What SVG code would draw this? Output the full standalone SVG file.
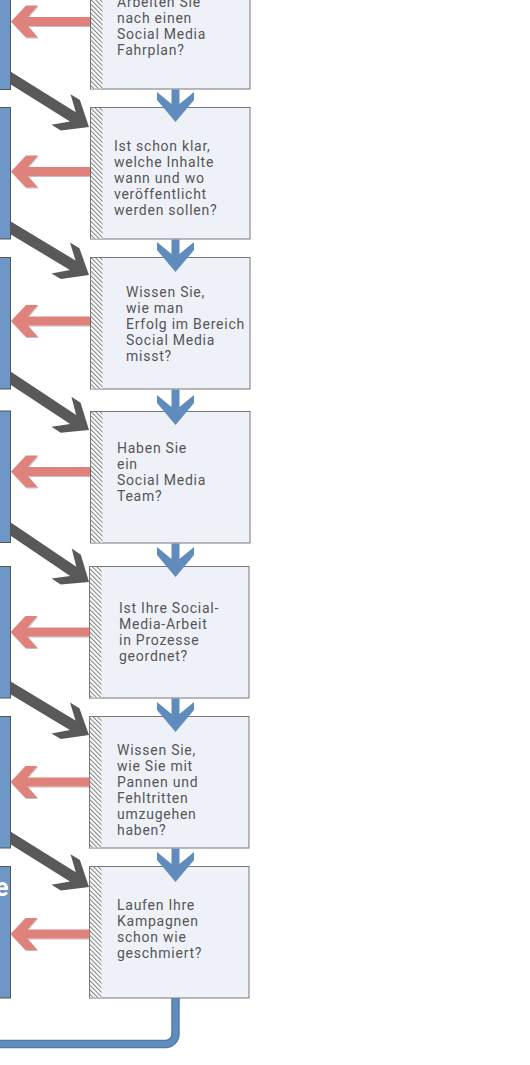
<svg xmlns="http://www.w3.org/2000/svg" width="530" height="1065" viewBox="0 0 530 1065">
<style>
.q{fill:#eef2f8;stroke:#777;stroke-width:1}
.h{fill:url(#hatch);stroke:none}
.lb{fill:#6c97c6;stroke:#555;stroke-width:1}
.t{font-family:Roboto,"Liberation Sans",sans-serif;font-size:14px;letter-spacing:0.75px;fill:#555}
.g{fill:#595959}
.b{fill:#5f8cbc}
.r{fill:#e0827b}
</style>
<defs>
<pattern id="hatch" patternUnits="userSpaceOnUse" width="3.2" height="3.2" patternTransform="rotate(-45)">
<rect width="3.2" height="3.2" fill="#fafbfc"/>
<rect x="0" y="0" width="1" height="3.2" fill="#808080"/>
</pattern>
<polygon id="ga" points="0,0 -22,-18 -33,-18 -19,-5.5 -115,-5.5 -115,5.5 -19,5.5 -33,18 -22,18"/>
<polygon id="ra" points="0,0 15,-16 27,-16 17,-4.5 79,-4.5 79,4.5 17,4.5 27,16 15,16"/>
<filter id="sh" x="-10%" y="-20%" width="120%" height="150%">
<feDropShadow dx="0.5" dy="1" stdDeviation="0.6" flood-color="#000" flood-opacity="0.25"/>
</filter>
</defs>

<g id="connectors-diag">
<use href="#ga" class="g" transform="translate(89,127) rotate(32)"/>
<use href="#ga" class="g" transform="translate(89,275) rotate(31)"/>
<use href="#ga" class="g" transform="translate(89,430) rotate(33.5)"/>
<use href="#ga" class="g" transform="translate(89,582) rotate(34)"/>
<use href="#ga" class="g" transform="translate(89,735) rotate(31)"/>
<use href="#ga" class="g" transform="translate(89,887) rotate(32)"/>
</g>

<g id="left-boxes">
<rect id="lb1" class="lb" x="-100" y="-45" width="110.5" height="134.5"/>
<rect id="lb2" class="lb" x="-100" y="107.5" width="110.5" height="131.5"/>
<rect id="lb3" class="lb" x="-100" y="257.5" width="110.5" height="131.5"/>
<rect id="lb4" class="lb" x="-100" y="411" width="110.5" height="131.5"/>
<rect id="lb5" class="lb" x="-100" y="566.5" width="110.5" height="131.5"/>
<g id="lb6"><rect class="lb" x="-100" y="716.5" width="110.5" height="131.5"/></g>
<g id="lb7"><rect class="lb" x="-100" y="866.5" width="110.5" height="131.5"/>
<text x="8.5" y="896" text-anchor="end" font-family="Roboto,'Liberation Sans',sans-serif" font-weight="bold" font-size="25" fill="#fff">e</text></g>
</g>

<g id="bottom-line">
<path d="M175.5 998 V1034 A10 10 0 0 1 165.5 1044 H-10" fill="none" stroke="#4f7aa8" stroke-width="8.5"/>
<path d="M175.5 998 V1034 A10 10 0 0 1 165.5 1044 H-10" fill="none" stroke="#5f8cbc" stroke-width="6"/>
</g>

<g id="n1">
<rect class="q" x="90.5" y="-45" width="159.5" height="134"/>
<rect class="h" x="91" y="-45" width="11.5" height="133.5"/>
<text class="t"><tspan x="117" y="7">Arbeiten Sie</tspan><tspan x="117" y="23">nach einen</tspan><tspan x="117" y="39">Social Media</tspan><tspan x="117" y="55">Fahrplan?</tspan></text>
</g>
<g id="n2">
<rect class="q" x="90.5" y="107.5" width="159.5" height="131.5"/>
<rect class="h" x="91" y="108" width="11.5" height="130.5"/>
<text class="t"><tspan x="114" y="151">Ist schon klar,</tspan><tspan x="114" y="167">welche Inhalte</tspan><tspan x="114" y="183">wann und wo</tspan><tspan x="114" y="199">veröffentlicht</tspan><tspan x="114" y="215">werden sollen?</tspan></text>
</g>
<g id="n3">
<rect class="q" x="90.5" y="257.5" width="159.5" height="131.5"/>
<rect class="h" x="91" y="258" width="11.5" height="130.5"/>
<text class="t"><tspan x="126" y="297">Wissen Sie,</tspan><tspan x="126" y="313">wie man</tspan><tspan x="126" y="329">Erfolg im Bereich</tspan><tspan x="126" y="345">Social Media</tspan><tspan x="126" y="361">misst?</tspan></text>
</g>
<g id="n4">
<rect class="q" x="90.5" y="411.5" width="159.5" height="131.5"/>
<rect class="h" x="91" y="412" width="11.5" height="130.5"/>
<text class="t"><tspan x="117" y="453">Haben Sie</tspan><tspan x="117" y="469">ein</tspan><tspan x="117" y="485">Social Media</tspan><tspan x="117" y="501">Team?</tspan></text>
</g>
<g id="n5">
<rect class="q" x="89.5" y="566.5" width="159.5" height="131.5"/>
<rect class="h" x="90" y="567" width="11.5" height="130.5"/>
<text class="t"><tspan x="119" y="613">Ist Ihre Social-</tspan><tspan x="119" y="629">Media-Arbeit</tspan><tspan x="119" y="645">in Prozesse</tspan><tspan x="119" y="661">geordnet?</tspan></text>
</g>
<g id="n6">
<rect class="q" x="89.5" y="716.5" width="159.5" height="131.5"/>
<rect class="h" x="90" y="717" width="11.5" height="130.5"/>
<text class="t"><tspan x="117" y="755">Wissen Sie,</tspan><tspan x="117" y="771">wie Sie mit</tspan><tspan x="117" y="787">Pannen und</tspan><tspan x="117" y="803">Fehltritten</tspan><tspan x="117" y="819">umzugehen</tspan><tspan x="117" y="835">haben?</tspan></text>
</g>
<g id="n7">
<rect class="q" x="89.5" y="866.5" width="159.5" height="131.5"/>
<rect class="h" x="90" y="867" width="11.5" height="130.5"/>
<text class="t"><tspan x="117" y="910">Laufen Ihre</tspan><tspan x="117" y="926">Kampagnen</tspan><tspan x="117" y="942">schon wie</tspan><tspan x="117" y="958">geschmiert?</tspan></text>
</g>

<g id="connectors">
<polygon class="b" points="175.5,122 157,100 157,92 171.5,104 171.5,89.5 179.5,89.5 179.5,104 194,92 194,100"/>
<polygon class="b" points="175.5,272 157,250 157,242 171.5,254 171.5,239.5 179.5,239.5 179.5,254 194,242 194,250"/>
<polygon class="b" points="175.5,425 157,403 157,395 171.5,407 171.5,389.5 179.5,389.5 179.5,407 194,395 194,403"/>
<polygon class="b" points="175.5,577 157,555 157,547 171.5,559 171.5,543.5 179.5,543.5 179.5,559 194,547 194,555"/>
<polygon class="b" points="175.5,732 157,710 157,702 171.5,714 171.5,698.5 179.5,698.5 179.5,714 194,702 194,710"/>
<polygon class="b" points="175.5,882 157,860 157,852 171.5,864 171.5,848.5 179.5,848.5 179.5,864 194,852 194,860"/>
<g filter="url(#sh)">
<use href="#ra" class="r" transform="translate(11,21.5)"/>
<use href="#ra" class="r" transform="translate(11,171.5)"/>
<use href="#ra" class="r" transform="translate(11,321)"/>
<use href="#ra" class="r" transform="translate(11,471.5)"/>
<use href="#ra" class="r" transform="translate(10.5,632)"/>
<use href="#ra" class="r" transform="translate(10.5,782)"/>
<use href="#ra" class="r" transform="translate(10.5,934)"/>
</g>
</g>
</svg>
